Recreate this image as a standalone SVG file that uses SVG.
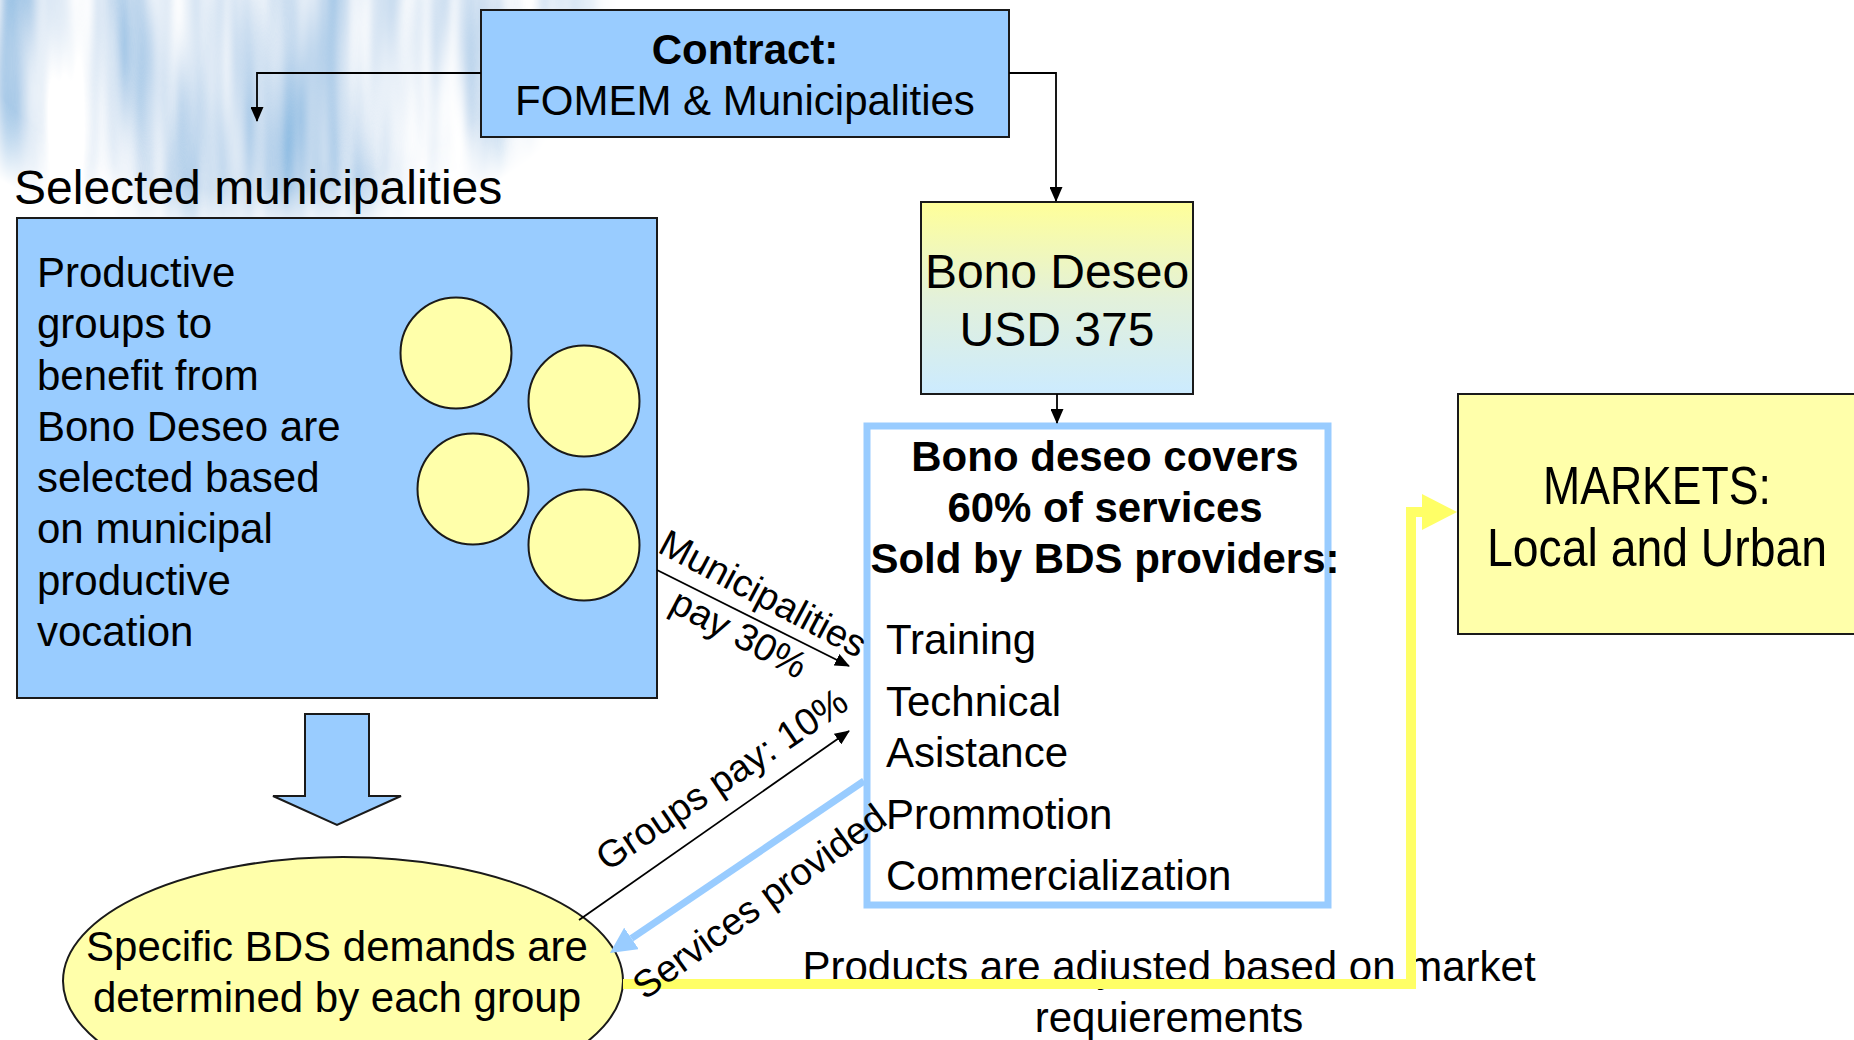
<svg xmlns="http://www.w3.org/2000/svg" width="1854" height="1040" viewBox="0 0 1854 1040">
  <defs>
    <style>
      text { font-family: "Liberation Sans", Arial, Helvetica, sans-serif; fill: #000; }
      .t42 { font-size: 42px; }
      .t48 { font-size: 48px; }
      .b { font-weight: bold; }
      .mid { text-anchor: middle; }
      .lbl { font-size: 38px; text-anchor: middle; }
      .box { fill: #99CCFF; stroke: #1a1a1a; stroke-width: 2; }
      .yel { fill: #FFFFAA; stroke: #1a1a1a; stroke-width: 2; }
      .wire { fill: none; stroke: #000; stroke-width: 1.8; }
    </style>
    <marker id="arrowBlack" markerUnits="userSpaceOnUse" markerWidth="15" markerHeight="13" refX="14" refY="6.5" orient="auto">
      <path d="M0,0 L15,6.5 L0,13 z" fill="#000"/>
    </marker>
    <marker id="arrowBlue" markerUnits="userSpaceOnUse" markerWidth="26" markerHeight="26" refX="0" refY="13" orient="auto">
      <path d="M0,0 L26,13 L0,26 z" fill="#99CCFF"/>
    </marker>
    <marker id="arrowYellow" markerUnits="userSpaceOnUse" markerWidth="36" markerHeight="36" refX="0" refY="18" orient="auto">
      <path d="M0,0 L35,18 L0,36 z" fill="#FFFF66"/>
    </marker>
    <linearGradient id="bonoFill" x1="0" y1="0" x2="0" y2="1">
      <stop offset="0" stop-color="#FFFF99"/>
      <stop offset="0.5" stop-color="#E3F1DA"/>
      <stop offset="1" stop-color="#CCEBFF"/>
    </linearGradient>
    <!-- watercolour wash in the top-left corner: soft vertical streaks of white and blue -->
    <filter id="wash" x="0" y="0" width="1" height="1">
      <feTurbulence type="fractalNoise" baseFrequency="0.02 0.0025" numOctaves="3" seed="11" result="n"/>
      <feColorMatrix in="n" type="matrix" values="-1.4 0 0 0 1.42  -0.95 0 0 0 1.285  -0.45 0 0 0 1.135  0 0 0 0 1"/>
    </filter>
    <radialGradient id="washFade" cx="250" cy="0" r="370" gradientUnits="userSpaceOnUse" gradientTransform="translate(250 0) scale(1 0.66) translate(-250 0)">
      <stop offset="0" stop-color="#fff"/>
      <stop offset="0.78" stop-color="#fff"/>
      <stop offset="1" stop-color="#000"/>
    </radialGradient>
    <mask id="washMask" maskUnits="userSpaceOnUse" x="0" y="0" width="700" height="260">
      <rect x="0" y="0" width="700" height="260" fill="url(#washFade)"/>
    </mask>
  </defs>

  <rect x="0" y="0" width="1854" height="1040" fill="#fff"/>

  <!-- background wash -->
  <g mask="url(#washMask)">
    <rect x="0" y="0" width="700" height="260" filter="url(#wash)"/>
  </g>

  <!-- contract -->
  <g id="contract">
    <rect class="box" x="481" y="10" width="528" height="127"/>
    <text class="t42 b mid" x="745" y="64">Contract:</text>
    <text class="t42 mid" x="745" y="115">FOMEM &amp; Municipalities</text>
  </g>

  <!-- selected municipalities -->
  <g id="municipalities">
    <text class="t48" x="14" y="204">Selected municipalities</text>
    <rect class="box" x="17" y="218" width="640" height="480"/>
    <text class="t42" x="37" y="287">Productive</text>
    <text class="t42" x="37" y="338">groups to</text>
    <text class="t42" x="37" y="390">benefit from</text>
    <text class="t42" x="37" y="441">Bono Deseo are</text>
    <text class="t42" x="37" y="492">selected based</text>
    <text class="t42" x="37" y="543">on municipal</text>
    <text class="t42" x="37" y="595">productive</text>
    <text class="t42" x="37" y="646">vocation</text>
    <circle class="yel" cx="456" cy="353" r="55.5"/>
    <circle class="yel" cx="584" cy="401" r="55.5"/>
    <circle class="yel" cx="473" cy="489" r="55.5"/>
    <circle class="yel" cx="584" cy="545" r="55.5"/>
  </g>

  <!-- block arrow down to the groups -->
  <g id="down-arrow">
    <path class="box" d="M305,714 H369 V796 H401 L337,825 L273,796 H305 Z"/>
  </g>

  <!-- groups -->
  <g id="groups">
    <ellipse class="yel" cx="343" cy="981" rx="280" ry="124"/>
    <text class="t42 mid" x="337" y="961">Specific BDS demands are</text>
    <text class="t42 mid" x="337" y="1012">determined by each group</text>
  </g>

  <!-- voucher -->
  <g id="bono">
    <rect x="921" y="202" width="272" height="192" fill="url(#bonoFill)" stroke="#1a1a1a" stroke-width="2"/>
    <text class="t48 mid" x="1057" y="288">Bono Deseo</text>
    <text class="t48 mid" x="1057" y="346">USD 375</text>
  </g>

  <!-- service providers -->
  <g id="providers">
    <rect x="867" y="426" width="461" height="479" fill="#fff" stroke="#99CCFF" stroke-width="7"/>
    <text class="t42 b mid" x="1105" y="471">Bono deseo covers</text>
    <text class="t42 b mid" x="1105" y="522">60% of services</text>
    <text class="t42 b mid" x="1105" y="573">Sold by BDS providers:</text>
    <text class="t42" x="886" y="654">Training</text>
    <text class="t42" x="886" y="716">Technical</text>
    <text class="t42" x="886" y="767">Asistance</text>
    <text class="t42" x="886" y="829">Prommotion</text>
    <text class="t42" x="886" y="890">Commercialization</text>
  </g>

  <!-- markets -->
  <g id="markets">
    <rect class="yel" x="1458" y="394" width="410" height="240"/>
    <text class="mid" x="1657" y="504" font-size="54" textLength="228" lengthAdjust="spacingAndGlyphs">MARKETS:</text>
    <text class="mid" x="1657" y="566" font-size="54" textLength="340" lengthAdjust="spacingAndGlyphs">Local and Urban</text>
  </g>

  <!-- market feedback loop, drawn over its own caption -->
  <g id="feedback">
    <text class="t42 mid" x="1169" y="981">Products are adjusted based on market</text>
    <text class="t42 mid" x="1169" y="1032">requierements</text>
    <path d="M623,984 H1411 V512 H1422" fill="none" stroke="#FFFF66" stroke-width="10" marker-end="url(#arrowYellow)"/>
  </g>

  <!-- connectors -->
  <g id="connectors">
    <path class="wire" d="M481,73 H257 V121" marker-end="url(#arrowBlack)"/>
    <path class="wire" d="M1009,73 H1056 V201" marker-end="url(#arrowBlack)"/>
    <path class="wire" d="M1057,394 V423" marker-end="url(#arrowBlack)"/>
    <path class="wire" d="M657,570 L849,666" marker-end="url(#arrowBlack)"/>
    <path class="wire" d="M579,920 L849,731" marker-end="url(#arrowBlack)"/>
    <path d="M864,781 L631.5,938.4" fill="none" stroke="#99CCFF" stroke-width="7" marker-end="url(#arrowBlue)"/>
    <text class="lbl" transform="translate(757 605) rotate(28)">Municipalities</text>
    <text class="lbl" transform="translate(733 645) rotate(28)">pay 30%</text>
    <text class="lbl" transform="translate(729 790) rotate(-34)">Groups pay: 10%</text>
    <text class="lbl" transform="translate(767 912) rotate(-36)">Services provided</text>
  </g>
</svg>
